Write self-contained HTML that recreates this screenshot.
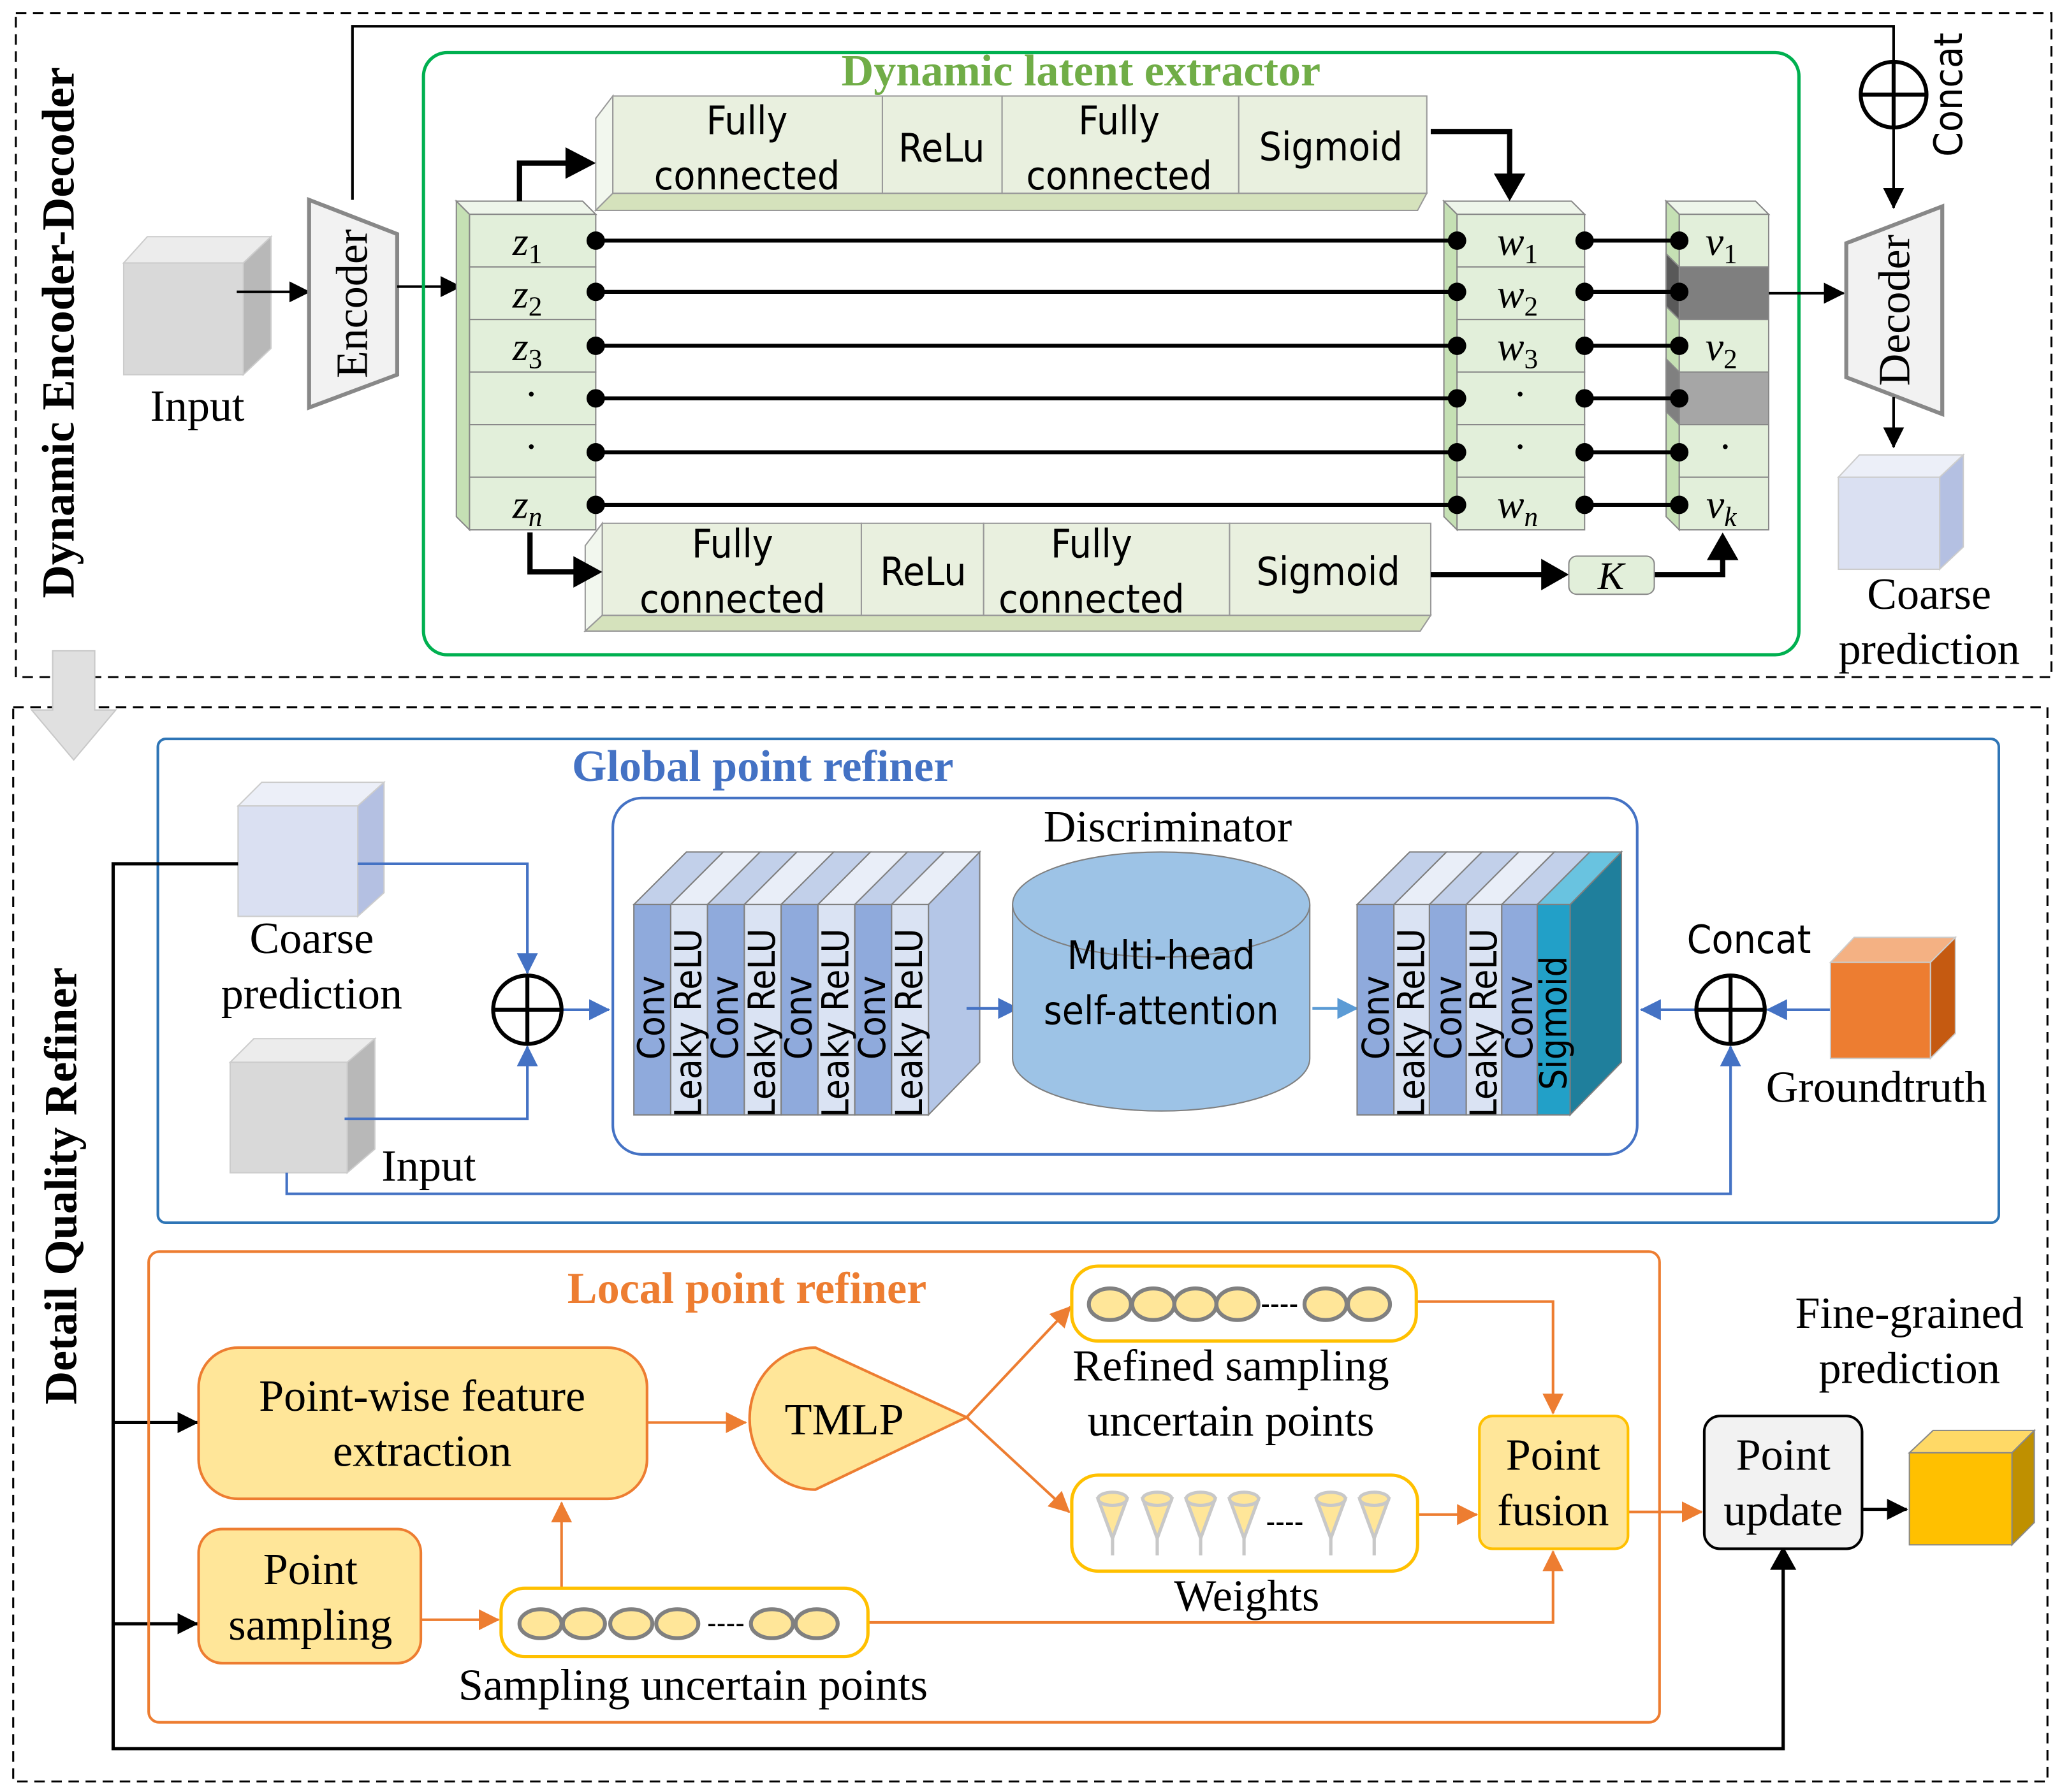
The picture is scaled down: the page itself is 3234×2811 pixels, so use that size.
<!DOCTYPE html>
<html><head><meta charset="utf-8"><style>
html,body{margin:0;padding:0;background:#fff}
svg{display:block}
.s{font-family:"Liberation Serif",serif}
.a{font-family:"DejaVu Sans Condensed","Liberation Sans",sans-serif}
</style></head><body>
<svg width="3234" height="2811" viewBox="0 0 1568 1363" xmlns="http://www.w3.org/2000/svg">
<defs>
<marker id="mkm" markerWidth="16" markerHeight="16" refX="15" refY="8" orient="auto" markerUnits="userSpaceOnUse"><path d="M0,0 L16,8 L0,16z" fill="#000"/></marker>
<marker id="mbl" markerWidth="16" markerHeight="16" refX="15" refY="8" orient="auto" markerUnits="userSpaceOnUse"><path d="M0,0 L16,8 L0,16z" fill="#4472c4"/></marker>
<marker id="mlb" markerWidth="16" markerHeight="16" refX="15" refY="8" orient="auto" markerUnits="userSpaceOnUse"><path d="M0,0 L16,8 L0,16z" fill="#5b9bd5"/></marker>
<marker id="mor" markerWidth="16" markerHeight="16" refX="15" refY="8" orient="auto" markerUnits="userSpaceOnUse"><path d="M0,0 L16,8 L0,16z" fill="#ed7d31"/></marker>
</defs>

<rect x="12" y="10" width="1548" height="505" fill="none" stroke="#000" stroke-width="1.5" stroke-dasharray="8,5"/>
<rect x="10" y="538" width="1547" height="817" fill="none" stroke="#000" stroke-width="1.5" stroke-dasharray="8,5"/>
<text class="s" font-weight="bold" font-size="35" transform="translate(56,253) rotate(-90)" text-anchor="middle">Dynamic Encoder-Decoder</text>
<text class="s" font-weight="bold" font-size="35" transform="translate(58,902) rotate(-90)" text-anchor="middle">Detail Quality Refiner</text>
<path d="M40,495 L72,495 L72,540 L88,540 L56,578 L24,540 L40,540z" fill="#e0e0e0" stroke="#c8c8c8"/>

<polygon points="94,200 112,180 206,180 185,200" fill="#ececec" stroke="#ccc"/>
<polygon points="185,200 206,180 206,265 185,285" fill="#b8b8b8" stroke="#ccc"/>
<rect x="94" y="200" width="91" height="85" fill="#d9d9d9" stroke="#ccc"/>
<text class="s" font-size="34" x="150" y="320" text-anchor="middle">Input</text>
<line x1="180" y1="222" x2="235" y2="222" stroke="#000" stroke-width="2" marker-end="url(#mkm)"/>
<polygon points="235,152 302,178 302,285 235,310" fill="#f2f2f2" stroke="#888" stroke-width="3"/>
<text class="s" font-size="34" transform="translate(279,231) rotate(-90)" text-anchor="middle">Encoder</text>
<line x1="302" y1="218" x2="350" y2="218" stroke="#000" stroke-width="2" marker-end="url(#mkm)"/>
<polyline points="268,152 268,20 1440,20 1440,158" fill="none" stroke="#000" stroke-width="2" marker-end="url(#mkm)"/>
<circle cx="1440" cy="72" r="25" fill="#fff" stroke="#000" stroke-width="3"/>
<line x1="1415" y1="72" x2="1465" y2="72" stroke="#000" stroke-width="3"/>
<line x1="1440" y1="47" x2="1440" y2="97" stroke="#000" stroke-width="3"/>
<text class="a" font-size="30" transform="translate(1492,72) rotate(-90)" text-anchor="middle">Concat</text>

<rect x="322" y="40" width="1046" height="458" rx="18" fill="none" stroke="#00b050" stroke-width="2.5"/>
<text class="s" font-weight="bold" font-size="34" x="822" y="65" fill="#70ad47" text-anchor="middle">Dynamic latent extractor</text>

<g stroke="#888" stroke-width="1">
<polygon points="347,153 357,163 357,403 347,393" fill="#c5e0b4"/>
<polygon points="347,153 443,153 453,163 357,163" fill="#eef5ea"/>
<rect x="357" y="163" width="96" height="40" fill="#e2efda"/>
<rect x="357" y="203" width="96" height="40" fill="#e2efda"/>
<rect x="357" y="243" width="96" height="40" fill="#e2efda"/>
<rect x="357" y="283" width="96" height="40" fill="#e2efda"/>
<rect x="357" y="323" width="96" height="40" fill="#e2efda"/>
<rect x="357" y="363" width="96" height="40" fill="#e2efda"/>
</g>
<g class="s" font-size="31" font-style="italic" text-anchor="middle">
<text x="401" y="194">z<tspan font-size="21" font-style="normal" dy="6">1</tspan></text>
<text x="401" y="234">z<tspan font-size="21" font-style="normal" dy="6">2</tspan></text>
<text x="401" y="274">z<tspan font-size="21" font-style="normal" dy="6">3</tspan></text>
<text x="404" y="310" font-style="normal">·</text>
<text x="404" y="350" font-style="normal">·</text>
<text x="401" y="394">z<tspan font-size="21" dy="6">n</tspan></text>
</g>
<g stroke="#888" stroke-width="1">
<polygon points="1098,153 1108,163 1108,403 1098,393" fill="#c5e0b4"/>
<polygon points="1098,153 1195,153 1205,163 1108,163" fill="#eef5ea"/>
<rect x="1108" y="163" width="97" height="40" fill="#e2efda"/>
<rect x="1108" y="203" width="97" height="40" fill="#e2efda"/>
<rect x="1108" y="243" width="97" height="40" fill="#e2efda"/>
<rect x="1108" y="283" width="97" height="40" fill="#e2efda"/>
<rect x="1108" y="323" width="97" height="40" fill="#e2efda"/>
<rect x="1108" y="363" width="97" height="40" fill="#e2efda"/>
</g>
<g class="s" font-size="31" font-style="italic" text-anchor="middle">
<text x="1154" y="194">w<tspan font-size="21" font-style="normal" dy="6">1</tspan></text>
<text x="1154" y="234">w<tspan font-size="21" font-style="normal" dy="6">2</tspan></text>
<text x="1154" y="274">w<tspan font-size="21" font-style="normal" dy="6">3</tspan></text>
<text x="1156" y="310" font-style="normal">·</text>
<text x="1156" y="350" font-style="normal">·</text>
<text x="1154" y="394">w<tspan font-size="21" dy="6">n</tspan></text>
</g>
<g stroke="#888" stroke-width="1">
<polygon points="1267,153 1277,163 1277,403 1267,393" fill="#c5e0b4"/>
<polygon points="1267,153 1335,153 1345,163 1277,163" fill="#eef5ea"/>
<rect x="1277" y="163" width="68" height="40" fill="#e2efda"/>
<rect x="1277" y="203" width="68" height="40" fill="#7f7f7f"/>
<polygon points="1267,193 1277,203 1277,243 1267,233" fill="#595959"/>
<rect x="1277" y="243" width="68" height="40" fill="#e2efda"/>
<rect x="1277" y="283" width="68" height="40" fill="#a6a6a6"/>
<polygon points="1267,273 1277,283 1277,323 1267,313" fill="#808080"/>
<rect x="1277" y="323" width="68" height="40" fill="#e2efda"/>
<rect x="1277" y="363" width="68" height="40" fill="#e2efda"/>
</g>
<g class="s" font-size="31" font-style="italic" text-anchor="middle">
<text x="1309" y="194">v<tspan font-size="21" font-style="normal" dy="6">1</tspan></text>
<text x="1309" y="274">v<tspan font-size="21" font-style="normal" dy="6">2</tspan></text>
<text x="1312" y="350" font-style="normal">·</text>
<text x="1309" y="394">v<tspan font-size="21" dy="6">k</tspan></text>
</g>
<g stroke="#000" stroke-width="3">
<line x1="453" y1="183" x2="1108" y2="183"/><line x1="453" y1="222" x2="1108" y2="222"/>
<line x1="453" y1="263" x2="1108" y2="263"/><line x1="453" y1="303" x2="1108" y2="303"/>
<line x1="453" y1="344" x2="1108" y2="344"/><line x1="453" y1="384" x2="1108" y2="384"/>
<line x1="1205" y1="183" x2="1277" y2="183"/><line x1="1205" y1="222" x2="1277" y2="222"/>
<line x1="1205" y1="263" x2="1277" y2="263"/><line x1="1205" y1="303" x2="1277" y2="303"/>
<line x1="1205" y1="344" x2="1277" y2="344"/><line x1="1205" y1="384" x2="1277" y2="384"/>
</g>
<g fill="#000">
<circle cx="453" cy="183" r="7"/><circle cx="453" cy="222" r="7"/><circle cx="453" cy="263" r="7"/><circle cx="453" cy="303" r="7"/><circle cx="453" cy="344" r="7"/><circle cx="453" cy="384" r="7"/>
<circle cx="1108" cy="183" r="7"/><circle cx="1108" cy="222" r="7"/><circle cx="1108" cy="263" r="7"/><circle cx="1108" cy="303" r="7"/><circle cx="1108" cy="344" r="7"/><circle cx="1108" cy="384" r="7"/>
<circle cx="1205" cy="183" r="7"/><circle cx="1205" cy="222" r="7"/><circle cx="1205" cy="263" r="7"/><circle cx="1205" cy="303" r="7"/><circle cx="1205" cy="344" r="7"/><circle cx="1205" cy="384" r="7"/>
<circle cx="1277" cy="183" r="7"/><circle cx="1277" cy="222" r="7"/><circle cx="1277" cy="263" r="7"/><circle cx="1277" cy="303" r="7"/><circle cx="1277" cy="344" r="7"/><circle cx="1277" cy="384" r="7"/>
</g>

<g stroke="#999" stroke-width="1">
<polygon points="453,90 466,73 466,147 453,160" fill="#f2f7ee"/>
<polygon points="466,147 1085,147 1078,160 453,160" fill="#d5e2bc"/>
<rect x="466" y="73" width="205" height="74" fill="#e9f0df"/>
<rect x="671" y="73" width="91" height="74" fill="#e9f0df"/>
<rect x="762" y="73" width="180" height="74" fill="#e9f0df"/>
<rect x="942" y="73" width="143" height="74" fill="#e9f0df"/>
</g>
<g class="a" font-size="30" text-anchor="middle">
<text x="568" y="102">Fully</text><text x="568" y="144">connected</text>
<text x="716" y="123">ReLu</text>
<text x="851" y="102">Fully</text><text x="851" y="144">connected</text>
<text x="1012" y="122">Sigmoid</text>
</g>
<g stroke="#999" stroke-width="1">
<polygon points="445,415 458,398 458,468 445,480" fill="#f2f7ee"/>
<polygon points="458,468 1088,468 1080,480 445,480" fill="#d5e2bc"/>
<rect x="458" y="398" width="197" height="70" fill="#e9f0df"/>
<rect x="655" y="398" width="93" height="70" fill="#e9f0df"/>
<rect x="748" y="398" width="187" height="70" fill="#e9f0df"/>
<rect x="935" y="398" width="153" height="70" fill="#e9f0df"/>
</g>
<g class="a" font-size="30" text-anchor="middle">
<text x="557" y="424">Fully</text><text x="557" y="466">connected</text>
<text x="702" y="445">ReLu</text>
<text x="830" y="424">Fully</text><text x="830" y="466">connected</text>
<text x="1010" y="445">Sigmoid</text>
</g>
<g stroke="#000" stroke-width="4" fill="none">
<polyline points="395,153 395,124 432,124" />
<polyline points="1088,100 1148,100 1148,134"/>
<polyline points="403,405 403,435 438,435"/>
<line x1="1088" y1="437" x2="1174" y2="437"/>
<polyline points="1258,437 1310,437 1310,425"/>
</g>
<g fill="#000">
<path d="M430,112 L453,124 L430,136z"/>
<path d="M1136,132 L1148,153 L1160,132z"/>
<path d="M436,423 L458,435 L436,447z"/>
<path d="M1172,425 L1193,437 L1172,449z"/>
<path d="M1298,426 L1310,405 L1322,426z"/>
</g>
<rect x="1193" y="423" width="65" height="29" rx="6" fill="#e2efda" stroke="#888"/>
<text class="s" font-size="30" font-style="italic" x="1225" y="448" text-anchor="middle">K</text>

<line x1="1345" y1="223" x2="1402" y2="223" stroke="#000" stroke-width="2" marker-end="url(#mkm)"/>
<polygon points="1404,185 1477,157 1477,315 1404,287" fill="#f2f2f2" stroke="#888" stroke-width="3"/>
<text class="s" font-size="34" transform="translate(1452,236) rotate(-90)" text-anchor="middle">Decoder</text>
<line x1="1440" y1="302" x2="1440" y2="340" stroke="#000" stroke-width="2" marker-end="url(#mkm)"/>
<polygon points="1398,363 1414,346 1493,346 1475,363" fill="#eceff8" stroke="#ccc"/>
<polygon points="1475,363 1493,346 1493,416 1475,433" fill="#b4c0e2" stroke="#ccc"/>
<rect x="1398" y="363" width="77" height="70" fill="#dae0f2" stroke="#ccc"/>
<text class="s" font-size="34" x="1467" y="463" text-anchor="middle">Coarse</text>
<text class="s" font-size="34" x="1467" y="505" text-anchor="middle">prediction</text>

<rect x="120" y="562" width="1400" height="368" rx="6" fill="none" stroke="#2e75b6" stroke-width="2"/>
<text class="s" font-weight="bold" font-size="34" x="580" y="594" fill="#4472c4" text-anchor="middle">Global point refiner</text>
<polygon points="181,613 199,595 292,595 272,613" fill="#eceff8" stroke="#ccc"/>
<polygon points="272,613 292,595 292,679 272,697" fill="#b4c0e2" stroke="#ccc"/>
<rect x="181" y="613" width="91" height="84" fill="#dae0f2" stroke="#ccc"/>
<text class="s" font-size="34" x="237" y="725" text-anchor="middle">Coarse</text>
<text class="s" font-size="34" x="237" y="767" text-anchor="middle">prediction</text>
<polygon points="175,808 193,790 285,790 264,808" fill="#ececec" stroke="#ccc"/>
<polygon points="264,808 285,790 285,874 264,892" fill="#b8b8b8" stroke="#ccc"/>
<rect x="175" y="808" width="89" height="84" fill="#d9d9d9" stroke="#ccc"/>
<text class="s" font-size="34" x="326" y="898" text-anchor="middle">Input</text>
<g stroke="#4472c4" stroke-width="2" fill="none">
<polyline points="272,657 401,657 401,740" marker-end="url(#mbl)"/>
<polyline points="262,851 401,851 401,796" marker-end="url(#mbl)"/>
<line x1="427" y1="768" x2="463" y2="768" marker-end="url(#mbl)"/>
<polyline points="218,892 218,908 1316,908 1316,796" marker-end="url(#mbl)"/>
<line x1="1392" y1="768" x2="1344" y2="768" marker-end="url(#mbl)"/>
<line x1="1290" y1="768" x2="1248" y2="768" marker-end="url(#mbl)"/>
</g>
<circle cx="401" cy="768" r="26" fill="#fff" stroke="#000" stroke-width="3"/>
<line x1="375" y1="768" x2="427" y2="768" stroke="#000" stroke-width="3"/><line x1="401" y1="742" x2="401" y2="794" stroke="#000" stroke-width="3"/>
<circle cx="1316" cy="768" r="26" fill="#fff" stroke="#000" stroke-width="3"/>
<line x1="1290" y1="768" x2="1342" y2="768" stroke="#000" stroke-width="3"/><line x1="1316" y1="742" x2="1316" y2="794" stroke="#000" stroke-width="3"/>
<text class="a" font-size="30" x="1330" y="725" text-anchor="middle">Concat</text>
<polygon points="1392,732 1410,713 1487,713 1468,732" fill="#f4b183" stroke="#ccc"/>
<polygon points="1468,732 1487,713 1487,786 1468,805" fill="#c55a11" stroke="#ccc"/>
<rect x="1392" y="732" width="76" height="73" fill="#ed7d31" stroke="#ccc"/>
<text class="s" font-size="34" x="1427" y="838" text-anchor="middle">Groundtruth</text>

<rect x="466" y="607" width="779" height="271" rx="22" fill="none" stroke="#4472c4" stroke-width="2"/>
<text class="s" font-size="34" x="888" y="640" text-anchor="middle">Discriminator</text>
<g stroke="#7f7f7f" stroke-width="1">
<polygon points="706,688 745,648 745,808 706,848" fill="#b4c6e7"/>
<polygon points="482,688 522,648 550,648 510,688" fill="#c2d0ea"/>
<polygon points="510,688 550,648 578,648 538,688" fill="#e9eef8"/>
<polygon points="538,688 578,648 606,648 566,688" fill="#c2d0ea"/>
<polygon points="566,688 606,648 634,648 594,688" fill="#e9eef8"/>
<polygon points="594,688 634,648 662,648 622,688" fill="#c2d0ea"/>
<polygon points="622,688 662,648 690,648 650,688" fill="#e9eef8"/>
<polygon points="650,688 690,648 718,648 678,688" fill="#c2d0ea"/>
<polygon points="678,688 718,648 745,648 706,688" fill="#e9eef8"/>
<rect x="482" y="688" width="28" height="160" fill="#8faadc"/>
<rect x="510" y="688" width="28" height="160" fill="#dae3f3"/>
<rect x="538" y="688" width="28" height="160" fill="#8faadc"/>
<rect x="566" y="688" width="28" height="160" fill="#dae3f3"/>
<rect x="594" y="688" width="28" height="160" fill="#8faadc"/>
<rect x="622" y="688" width="28" height="160" fill="#dae3f3"/>
<rect x="650" y="688" width="28" height="160" fill="#8faadc"/>
<rect x="678" y="688" width="28" height="160" fill="#dae3f3"/>
</g>
<g class="a" font-size="28">
<text transform="translate(505,806) rotate(-90)">Conv</text>
<text transform="translate(533,850) rotate(-90)">Leaky ReLU</text>
<text transform="translate(561,806) rotate(-90)">Conv</text>
<text transform="translate(589,850) rotate(-90)">Leaky ReLU</text>
<text transform="translate(617,806) rotate(-90)">Conv</text>
<text transform="translate(645,850) rotate(-90)">Leaky ReLU</text>
<text transform="translate(673,806) rotate(-90)">Conv</text>
<text transform="translate(701,850) rotate(-90)">Leaky ReLU</text>
</g>
<line x1="735" y1="767" x2="774" y2="767" stroke="#4472c4" stroke-width="2" marker-end="url(#mbl)"/>
<path d="M770,688 L770,805 A113,40 0 0 0 996,805 L996,688" fill="#9dc3e6" stroke="#7f7f7f"/>
<ellipse cx="883" cy="688" rx="113" ry="40" fill="#9dc3e6" stroke="#7f7f7f"/>
<text class="a" font-size="30" x="883" y="737" text-anchor="middle">Multi-head</text>
<text class="a" font-size="30" x="883" y="779" text-anchor="middle">self-attention</text>
<line x1="998" y1="767" x2="1032" y2="767" stroke="#5b9bd5" stroke-width="2" marker-end="url(#mlb)"/>
<g stroke="#7f7f7f" stroke-width="1">
<polygon points="1194,688 1233,648 1233,808 1194,848" fill="#1f7f9c"/>
<polygon points="1032,688 1072,648 1100,648 1060,688" fill="#c2d0ea"/>
<polygon points="1060,688 1100,648 1127,648 1087,688" fill="#e9eef8"/>
<polygon points="1087,688 1127,648 1155,648 1115,688" fill="#c2d0ea"/>
<polygon points="1115,688 1155,648 1182,648 1142,688" fill="#e9eef8"/>
<polygon points="1142,688 1182,648 1209,648 1169,688" fill="#c2d0ea"/>
<polygon points="1169,688 1209,648 1233,648 1194,688" fill="#69c3e0"/>
<rect x="1032" y="688" width="28" height="160" fill="#8faadc"/>
<rect x="1060" y="688" width="27" height="160" fill="#dae3f3"/>
<rect x="1087" y="688" width="28" height="160" fill="#8faadc"/>
<rect x="1115" y="688" width="27" height="160" fill="#dae3f3"/>
<rect x="1142" y="688" width="27" height="160" fill="#8faadc"/>
<rect x="1169" y="688" width="25" height="160" fill="#22a0c8"/>
</g>
<g class="a" font-size="28">
<text transform="translate(1056,806) rotate(-90)">Conv</text>
<text transform="translate(1083,850) rotate(-90)">Leaky ReLU</text>
<text transform="translate(1111,806) rotate(-90)">Conv</text>
<text transform="translate(1138,850) rotate(-90)">Leaky ReLU</text>
<text transform="translate(1165,806) rotate(-90)">Conv</text>
<text transform="translate(1191,829) rotate(-90)">Sigmoid</text>
</g>

<polyline points="181,657 86,657 86,1330 1356,1330 1356,1180" fill="none" stroke="#000" stroke-width="2.5"/>
<path d="M1346,1194 L1356,1176 L1366,1194z" fill="#000"/>
<line x1="86" y1="1082" x2="150" y2="1082" stroke="#000" stroke-width="2.5" marker-end="url(#mkm)"/>
<line x1="86" y1="1235" x2="150" y2="1235" stroke="#000" stroke-width="2.5" marker-end="url(#mkm)"/>

<rect x="113" y="952" width="1149" height="358" rx="8" fill="none" stroke="#ed7d31" stroke-width="2"/>
<text class="s" font-weight="bold" font-size="34" x="568" y="991" fill="#ed7d31" text-anchor="middle">Local point refiner</text>
<rect x="151" y="1025" width="341" height="115" rx="30" fill="#ffe699" stroke="#ed7d31" stroke-width="2"/>
<text class="s" font-size="34" x="321" y="1073" text-anchor="middle">Point-wise feature</text>
<text class="s" font-size="34" x="321" y="1115" text-anchor="middle">extraction</text>
<rect x="151" y="1163" width="169" height="102" rx="18" fill="#ffe699" stroke="#ed7d31" stroke-width="2"/>
<text class="s" font-size="34" x="236" y="1205" text-anchor="middle">Point</text>
<text class="s" font-size="34" x="236" y="1247" text-anchor="middle">sampling</text>
<path d="M620,1025 L735,1078 L620,1133 A50,54 0 0 1 620,1025z" fill="#ffe699" stroke="#ed7d31" stroke-width="2"/>
<text class="s" font-size="34" x="642" y="1091" text-anchor="middle">TMLP</text>
<g stroke="#ed7d31" stroke-width="2" fill="none">
<line x1="492" y1="1082" x2="567" y2="1082" marker-end="url(#mor)"/>
<line x1="735" y1="1078" x2="814" y2="994" marker-end="url(#mor)"/>
<line x1="735" y1="1078" x2="813" y2="1150" marker-end="url(#mor)"/>
<line x1="320" y1="1232" x2="379" y2="1232" marker-end="url(#mor)"/>
<line x1="427" y1="1208" x2="427" y2="1143" marker-end="url(#mor)"/>
<polyline points="660,1234 1181,1234 1181,1180" marker-end="url(#mor)"/>
<polyline points="1077,990 1181,990 1181,1075" marker-end="url(#mor)"/>
<line x1="1078" y1="1152" x2="1123" y2="1152" marker-end="url(#mor)"/>
<line x1="1238" y1="1150" x2="1294" y2="1150" marker-end="url(#mor)"/>
</g>
<rect x="815" y="963" width="262" height="57" rx="20" fill="#fff" stroke="#ffc000" stroke-width="2.5"/>
<g fill="#ffe699" stroke="#808080" stroke-width="3">
<ellipse cx="844" cy="992" rx="16" ry="12"/><ellipse cx="877" cy="992" rx="16" ry="12"/><ellipse cx="909" cy="992" rx="16" ry="12"/><ellipse cx="941" cy="992" rx="16" ry="12"/>
<ellipse cx="1008" cy="992" rx="16" ry="12"/><ellipse cx="1041" cy="992" rx="16" ry="12"/>
</g>
<text class="a" font-size="22" x="973" y="999" text-anchor="middle">----</text>
<text class="s" font-size="34" x="936" y="1050" text-anchor="middle">Refined sampling</text>
<text class="s" font-size="34" x="936" y="1092" text-anchor="middle">uncertain points</text>
<rect x="815" y="1122" width="263" height="73" rx="20" fill="#fff" stroke="#ffc000" stroke-width="2.5"/>
<g fill="#ffe699" stroke="#c8c8c8" stroke-width="2.5">
<g transform="translate(846,0)"><path d="M-11,1140 L0,1170 L11,1140z"/><ellipse cx="0" cy="1140" rx="11" ry="5"/><line x1="0" y1="1170" x2="0" y2="1183"/></g>
<g transform="translate(880,0)"><path d="M-11,1140 L0,1170 L11,1140z"/><ellipse cx="0" cy="1140" rx="11" ry="5"/><line x1="0" y1="1170" x2="0" y2="1183"/></g>
<g transform="translate(913,0)"><path d="M-11,1140 L0,1170 L11,1140z"/><ellipse cx="0" cy="1140" rx="11" ry="5"/><line x1="0" y1="1170" x2="0" y2="1183"/></g>
<g transform="translate(946,0)"><path d="M-11,1140 L0,1170 L11,1140z"/><ellipse cx="0" cy="1140" rx="11" ry="5"/><line x1="0" y1="1170" x2="0" y2="1183"/></g>
<g transform="translate(1012,0)"><path d="M-11,1140 L0,1170 L11,1140z"/><ellipse cx="0" cy="1140" rx="11" ry="5"/><line x1="0" y1="1170" x2="0" y2="1183"/></g>
<g transform="translate(1045,0)"><path d="M-11,1140 L0,1170 L11,1140z"/><ellipse cx="0" cy="1140" rx="11" ry="5"/><line x1="0" y1="1170" x2="0" y2="1183"/></g>
</g>
<text class="a" font-size="22" x="977" y="1165" text-anchor="middle">----</text>
<text class="s" font-size="34" x="948" y="1225" text-anchor="middle">Weights</text>
<rect x="381" y="1208" width="279" height="52" rx="18" fill="#fff" stroke="#ffc000" stroke-width="2.5"/>
<g fill="#ffe699" stroke="#808080" stroke-width="3">
<ellipse cx="411" cy="1235" rx="16" ry="11"/><ellipse cx="444" cy="1235" rx="16" ry="11"/><ellipse cx="480" cy="1235" rx="16" ry="11"/><ellipse cx="515" cy="1235" rx="16" ry="11"/>
<ellipse cx="587" cy="1235" rx="16" ry="11"/><ellipse cx="621" cy="1235" rx="16" ry="11"/>
</g>
<text class="a" font-size="22" x="552" y="1242" text-anchor="middle">----</text>
<text class="s" font-size="34" x="527" y="1293" text-anchor="middle">Sampling uncertain points</text>
<rect x="1125" y="1077" width="113" height="101" rx="10" fill="#ffe699" stroke="#ffc000" stroke-width="2"/>
<text class="s" font-size="34" x="1181" y="1118" text-anchor="middle">Point</text>
<text class="s" font-size="34" x="1181" y="1160" text-anchor="middle">fusion</text>
<rect x="1296" y="1077" width="120" height="101" rx="12" fill="#f2f2f2" stroke="#000" stroke-width="2"/>
<text class="s" font-size="34" x="1356" y="1118" text-anchor="middle">Point</text>
<text class="s" font-size="34" x="1356" y="1160" text-anchor="middle">update</text>
<line x1="1416" y1="1148" x2="1450" y2="1148" stroke="#000" stroke-width="2.5" marker-end="url(#mkm)"/>
<text class="s" font-size="34" x="1452" y="1010" text-anchor="middle">Fine-grained</text>
<text class="s" font-size="34" x="1452" y="1052" text-anchor="middle">prediction</text>
<polygon points="1452,1105 1470,1088 1547,1088 1530,1105" fill="#ffd966" stroke="#888"/>
<polygon points="1530,1105 1547,1088 1547,1158 1530,1175" fill="#bf9000" stroke="#888"/>
<rect x="1452" y="1105" width="78" height="70" fill="#ffc000" stroke="#888"/>
</svg>
</body></html>
